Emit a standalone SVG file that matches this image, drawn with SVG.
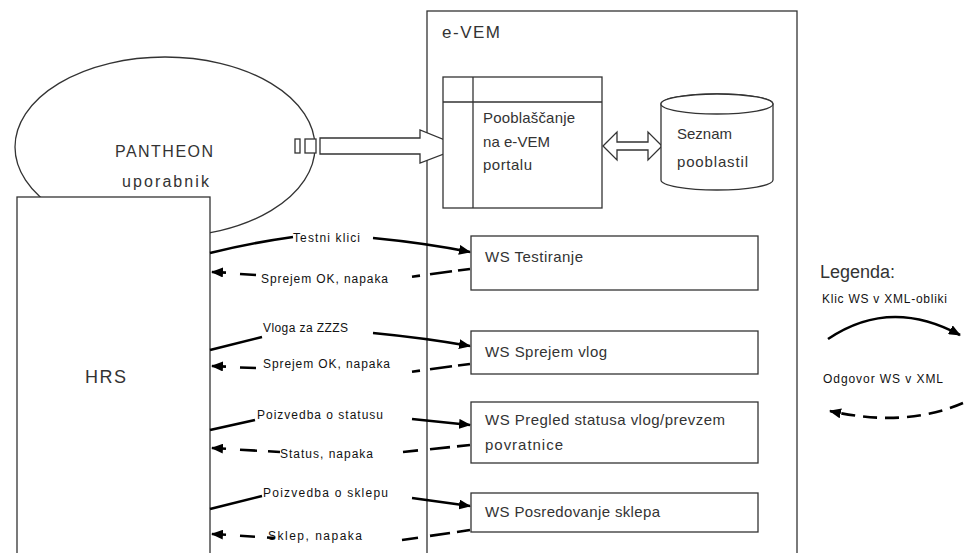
<svg xmlns="http://www.w3.org/2000/svg" width="979" height="553" viewBox="0 0 979 553">
<defs>
<style>
.box{fill:#fff;stroke:#333;stroke-width:1.3}
.t{font-family:"Liberation Sans",Arial,sans-serif;fill:#333}
.big{font-size:16px}
.mid{font-size:15px}
.lbl{font-family:"Liberation Sans",Arial,sans-serif;font-size:12px;fill:#111}
.call{fill:none;stroke:#000;stroke-width:2.6}
.d{fill:none;stroke:#000;stroke-width:2.6}
.ret{fill:none;stroke:#000;stroke-width:2.6;stroke-dasharray:14 8}
</style>
<marker id="ah" viewBox="0 0 12 10" refX="11" refY="5" markerWidth="12" markerHeight="10" markerUnits="userSpaceOnUse" orient="auto">
<path d="M0,0 L12,5 L0,10 z" fill="#000"/>
</marker>
</defs>
<rect width="979" height="553" fill="#fff"/>

<g id="pantheon">
<ellipse class="box" cx="165" cy="147" rx="150" ry="90"/>
<text class="t big" x="115" y="157" textLength="98">PANTHEON</text>
<text class="t big" x="122" y="187" textLength="87">uporabnik</text>
<rect class="box" x="295" y="139" width="5" height="14"/>
<rect class="box" x="305" y="139" width="11" height="14"/>
</g>

<g id="hrs">
<rect class="box" x="17" y="197" width="193" height="370"/>
<text class="t" x="85" y="383" font-size="18" textLength="41">HRS</text>
</g>

<g id="evem">
<rect class="box" x="427" y="11" width="370" height="560"/>
<text class="t" x="442" y="38" font-size="17" textLength="58">e-VEM</text>
</g>

<g id="auth-arrow">
<polygon class="box" points="320,138 420,138 420,130 462,147 420,163 420,154 320,154"/>
</g>

<g id="pooblascanje">
<rect class="box" x="443" y="77" width="159" height="131"/>
<line x1="473" y1="77" x2="473" y2="208" stroke="#333" stroke-width="1.3"/>
<line x1="443" y1="102" x2="602" y2="102" stroke="#333" stroke-width="1.3"/>
<text class="t mid" x="483" y="123" textLength="92">Pooblaščanje</text>
<text class="t mid" x="483" y="147" textLength="67">na e-VEM</text>
<text class="t mid" x="483" y="170" textLength="49">portalu</text>
</g>

<g id="double-arrow">
<polygon class="box" points="603,146 617,132 617,142 648,142 648,132 662,146 648,160 648,150 617,150 617,160"/>
</g>

<g id="seznam">
<path class="box" d="M661,104 L661,180 A56,10 0 0 0 773,180 L773,104 A56,10 0 0 0 661,104 Z"/>
<ellipse class="box" cx="717" cy="104" rx="56" ry="10"/>
<text class="t mid" x="677" y="139" textLength="55">Seznam</text>
<text class="t mid" x="677" y="167" textLength="71">pooblastil</text>
</g>

<g id="ws-testiranje">
<rect class="box" x="471" y="236" width="287" height="54"/>
<text class="t mid" x="485" y="262" textLength="98">WS Testiranje</text>
</g>
<g id="ws-sprejem">
<rect class="box" x="471" y="331" width="287" height="43"/>
<text class="t mid" x="485" y="357" textLength="122">WS Sprejem vlog</text>
</g>
<g id="ws-pregled">
<rect class="box" x="471" y="402" width="287" height="61"/>
<text class="t mid" x="485" y="425" textLength="240">WS Pregled statusa vlog/prevzem</text>
<text class="t mid" x="485" y="450" textLength="78">povratnice</text>
</g>
<g id="ws-posredovanje">
<rect class="box" x="471" y="493" width="287" height="39"/>
<text class="t mid" x="485" y="517" textLength="175">WS Posredovanje sklepa</text>
</g>

<g id="connectors">
<path class="call" d="M210,253 Q250,243 293,237"/>
<path class="call" d="M373,238 Q425,243 470,252" marker-end="url(#ah)"/>
<path class="d" d="M470,269 L458,270.5 M452,271.3 L430,274.3 M420,275.6 L412,276.7"/>
<path class="d" d="M256,275 L240,274"/>
<path class="d" d="M226,272.6 L212,272" marker-end="url(#ah)"/>

<path class="call" d="M210,350 L262,337"/>
<path class="call" d="M373,333 Q425,338 470,346" marker-end="url(#ah)"/>
<path class="d" d="M470,364 L458,365.5 M452,366.3 L430,369.3 M420,370.6 L412,371.7"/>
<path class="d" d="M256,368 L240,367.5"/>
<path class="d" d="M226,366.6 L212,366" marker-end="url(#ah)"/>

<path class="call" d="M210,430 L255,420"/>
<path class="call" d="M412,419 L470,425" marker-end="url(#ah)"/>
<path class="d" d="M470,445 L457,446.4 M450,447.1 L430,449.2 M418,450.4 L403,452"/>
<path class="d" d="M280,452 L268,451.3 M257,450.7 L240,449.7"/>
<path class="d" d="M226,448.8 L212,448" marker-end="url(#ah)"/>

<path class="call" d="M210,509 L262,496"/>
<path class="call" d="M412,498 L470,506" marker-end="url(#ah)"/>
<path class="d" d="M470,530 L457,532 M450,533 L430,535.9 M418,537.7 L402,540"/>
<path class="d" d="M275,538 L267,537.5 M255,536.7 L240,535.8"/>
<path class="d" d="M226,534.8 L212,534" marker-end="url(#ah)"/>

<path class="call" d="M828,339 Q890,297 960,335" marker-end="url(#ah)"/>
<path class="ret" d="M963,403 Q905,428 830,411" marker-end="url(#ah)"/>
</g>

<g id="labels">
<text class="lbl" x="293" y="242" textLength="67">Testni klici</text>
<text class="lbl" x="261" y="283" textLength="127">Sprejem OK, napaka</text>
<text class="lbl" x="263" y="332" textLength="85">Vloga za ZZZS</text>
<text class="lbl" x="263" y="368" textLength="127">Sprejem OK, napaka</text>
<text class="lbl" x="257" y="419" textLength="126">Poizvedba o statusu</text>
<text class="lbl" x="280" y="458" textLength="93">Status, napaka</text>
<text class="lbl" x="263" y="497" textLength="125">Poizvedba o sklepu</text>
<text class="lbl" x="268" y="540" textLength="94">Sklep, napaka</text>
</g>

<g id="legend">
<text class="t" x="820" y="278" font-size="18">Legenda:</text>
<text class="lbl" x="822" y="303" textLength="125">Klic WS v XML-obliki</text>
<text class="lbl" x="823" y="383" textLength="120">Odgovor WS v XML</text>
</g>
</svg>
